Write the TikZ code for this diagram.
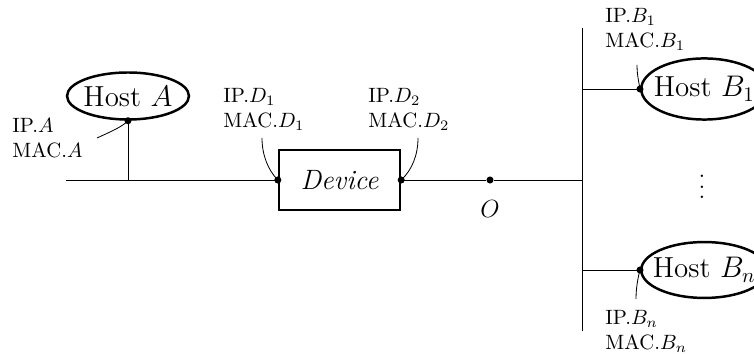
\documentclass[tikz,border=0pt]{standalone}
\usetikzlibrary{shapes.geometric}
\begin{document}
\begin{tikzpicture}[x=0.483pt,y=-0.483pt,
  wire/.style={line width=0.4pt},
  lead/.style={line width=0.4pt},
  hostell/.style={draw, ellipse, line width=1.2pt, inner sep=0pt,
    font=\fontsize{14}{17}\selectfont},
  devbox/.style={draw, rectangle, line width=1.2pt, inner sep=0pt,
    minimum width=58.4pt, minimum height=29pt,
    font=\fontsize{13.5}{16}\selectfont\itshape},
  port/.style={circle, fill, inner sep=0pt, minimum size=3.4pt},
  addr/.style={align=left, anchor=north west, inner sep=0pt, font=\normalsize}]
\useasboundingbox (0,0) rectangle (754,354);
\clip (0,0) rectangle (754,354);

% hosts and the device
\node[hostell, minimum width=58.9pt, minimum height=22.7pt] (hostA) at (128,96)
  {\makebox[0pt]{Host $A$}};
\node[devbox] (dev) at (339.5,180) {Device};
\node[hostell, minimum width=60.9pt, minimum height=29.5pt, anchor=west] (hb1)
  at (640,89) {\makebox[0pt]{Host $B_1$}};
\node[hostell, minimum width=60.9pt, minimum height=27pt, anchor=west] (hbn)
  at (640,270) {\makebox[0pt]{Host $B_n$}};

% bus wiring
\coordinate (lineL) at (66,180);
\coordinate (junA) at (128,180);
\coordinate (busM) at (582,180);
\coordinate (busT) at (582,28);
\coordinate (busB) at (582,331);
\node[port] (O) at (490,180) {};
\node[font=\fontsize{12.5}{15}\selectfont, inner sep=0pt] (Olab) at (490,209) {$O$};

\draw[wire] (lineL) -- (dev.west);
\draw[wire] (dev.east) -- (O) -- (busM);
\draw[wire] (junA) -- (hostA.south);
\draw[wire] (busT) -- (busB);
\draw[wire] (hb1.west -| busT) -- (hb1.west);
\draw[wire] (hbn.west -| busT) -- (hbn.west);

% interface points
\node[port] (pA) at (hostA.south) {};
\node[port] (pD1) at (dev.west) {};
\node[port] (pD2) at (dev.east) {};
\node[port] (pB1) at (hb1.west) {};
\node[port] (pBn) at (hbn.west) {};

% address labels
\node[addr] (ipA) at (12,118) {IP.$A$\\MAC.$A$};
\node[addr] (ipD1) at (223,88) {IP.$D_1$\\MAC.$D_1$};
\node[addr] (ipD2) at (368,88) {IP.$D_2$\\MAC.$D_2$};
\node[addr] (ipB1) at (605,8) {IP.$B_1$\\MAC.$B_1$};
\node[addr] (ipBn) at (605,310) {IP.$B_n$\\MAC.$B_n$};

% leader lines from labels to interfaces
\coordinate (tA) at (97,138);
\coordinate (tD1) at (262,138);
\coordinate (tD2) at (418,138);
\coordinate (tB1) at (637,65);
\coordinate (tBn) at (636,299);
\draw[lead] (tA) .. controls (110,132) and (122,127) .. (pA.center);
\draw[lead] (tD1) .. controls (262,155) and (268,170) .. (pD1.center);
\draw[lead] (tD2) .. controls (418,155) and (412,170) .. (pD2.center);
\draw[lead] (tB1) .. controls (637,75) and (639,83) .. (pB1.center);
\draw[lead] (tBn) .. controls (636,288) and (638,277) .. (pBn.center);

% ellipsis between the B hosts
\node[font=\large, inner sep=0pt] (vd) at (702,187)
  {\vbox{\baselineskip=5.1pt\lineskiplimit=0pt\hbox{.}\hbox{.}\hbox{.}}};
\end{tikzpicture}
\end{document}
